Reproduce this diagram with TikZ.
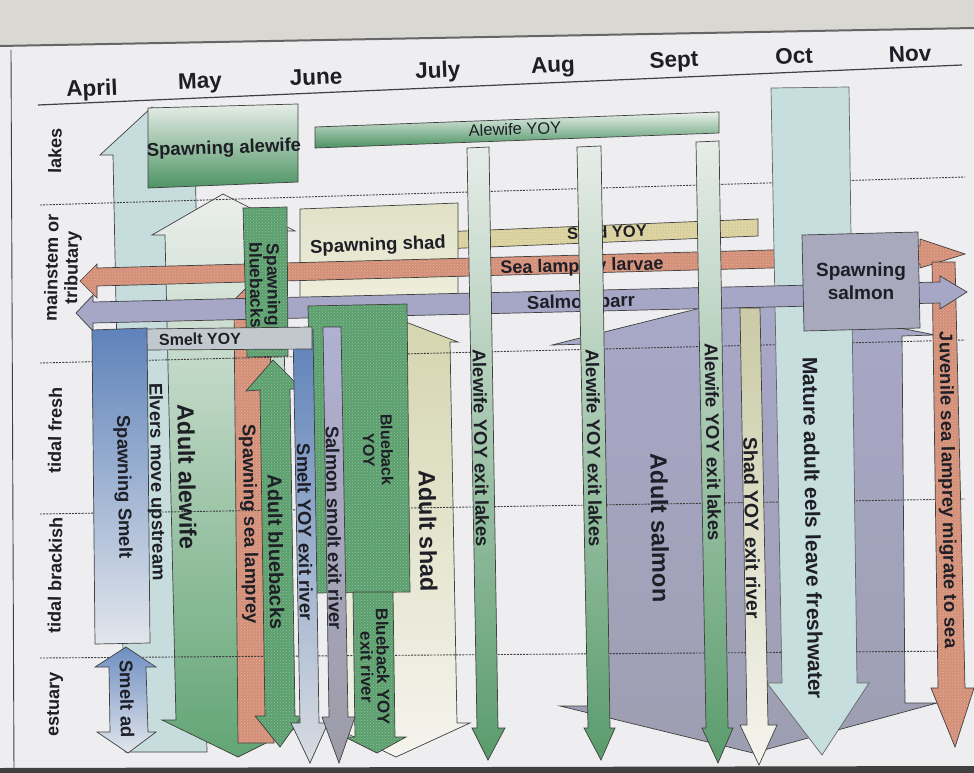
\documentclass[tikz,border=0pt]{standalone}
\usepackage{fontspec}
\setmainfont{Liberation Sans}
\usetikzlibrary{patterns}
\definecolor{paper}{HTML}{EEEDF0}
\definecolor{band}{HTML}{DAD8D3}
\definecolor{edgec}{HTML}{404040}
\definecolor{txt}{HTML}{1E1E26}
\definecolor{elvers}{HTML}{C7DDDD}
\definecolor{alewL}{HTML}{ECEFEC}
\definecolor{alewM}{HTML}{B8D8BF}
\definecolor{alewG}{HTML}{62A574}
\definecolor{shadL}{HTML}{D5D5AF}
\definecolor{shadW}{HTML}{F4F4EE}
\definecolor{salmonT}{HTML}{A8A8C8}
\definecolor{salmonB}{HTML}{9E9EB2}
\definecolor{lamp}{HTML}{D38F78}
\definecolor{lampdot}{HTML}{E6B09C}
\definecolor{shadyoy}{HTML}{D8CF9C}
\definecolor{shadyoydot}{HTML}{ECE4BC}
\definecolor{spshadT}{HTML}{E0E1C6}
\definecolor{spshadB}{HTML}{EEEEDC}
\definecolor{spalewT}{HTML}{E6EDE8}
\definecolor{spalewB}{HTML}{4E9464}
\definecolor{bbG}{HTML}{5C9E6E}
\definecolor{bbdot}{HTML}{8EC49B}
\definecolor{smeltB}{HTML}{5E82BA}
\definecolor{smeltL}{HTML}{E2E6EC}
\definecolor{smoltT}{HTML}{B0B0D2}
\definecolor{smoltB}{HTML}{9C9CA8}
\definecolor{parr}{HTML}{A6A6C6}
\definecolor{spsalmon}{HTML}{A9A9BD}
\definecolor{eels}{HTML}{C7DEDF}
\definecolor{yoyT}{HTML}{E9F0EA}
\definecolor{yoyB}{HTML}{4A9262}
\definecolor{exitL}{HTML}{E6ECE8}
\definecolor{exitM}{HTML}{C4DBC9}
\definecolor{exitG}{HTML}{5A9C6C}
\definecolor{sygray}{HTML}{C2C9CE}
\definecolor{sywhite}{HTML}{F3F5F6}
\definecolor{dotline}{HTML}{3C3C3C}
\begin{document}
\begin{tikzpicture}[x=1pt,y=-1pt,
  edge/.style={draw=edgec, line width=0.7pt, line join=miter},
  tx/.style={inner sep=0pt, text=txt, align=center, font=\bfseries\fontsize{18.5}{21}\selectfont},
  txv/.style={tx, rotate=-89},
  big/.style={font=\bfseries\fontsize{23.5}{26}\selectfont},
  month/.style={tx, font=\bfseries\fontsize{22.5}{24}\selectfont, rotate=2.3},
  rowlab/.style={tx, font=\bfseries\fontsize{18}{20}\selectfont, rotate=89},
  lampfill/.style={edge, preaction={fill=lamp}, pattern=crosshatch dots, pattern color=lampdot},
  bbfill/.style={edge, preaction={fill=bbG}, pattern=crosshatch dots, pattern color=bbdot},
  shadyoyfill/.style={edge, preaction={fill=shadyoy}, pattern=crosshatch dots, pattern color=shadyoydot},
  rowline/.style={draw=dotline, line width=0.9pt, dash pattern=on 2pt off 1.2pt},
  exitarrow/.style={edge, top color=exitL, middle color=exitM, bottom color=exitG}
]
\useasboundingbox (0,0) rectangle (974,773);
% paper and frame
\fill[paper] (0,0) rectangle (974,773);
\fill[band] (0,0) -- (974,0) -- (974,28) -- (0,46) -- cycle;
\draw[edgec!80, line width=2pt] (0,46) -- (974,28);
\draw[edgec, line width=0.9pt] (11,50) -- (14,773);
\fill[black!75] (0,768) -- (974,766) -- (974,773) -- (0,773) -- cycle;
% header
\draw[edgec, line width=1.2pt] (38,105) -- (962,65);
\node[month] (apr) at (92,90) {April};
\node[month] (may) at (200,83) {May};
\node[month] (jun) at (316,77) {June};
\node[month] (jul) at (438,72) {July};
\node[month] (aug) at (553,67) {Aug};
\node[month] (sep) at (674,62) {Sept};
\node[month] (oct) at (794,56) {Oct};
\node[month] (nov) at (910,54) {Nov};
% row labels
\node[rowlab] (rlakes) at (55,151) {lakes};
\node[rowlab] (rmain) at (63,268) {mainstem or\\tributary};
\node[rowlab] (rfresh) at (55,430) {tidal fresh};
\node[rowlab] (rbrack) at (55,575) {tidal brackish};
\node[rowlab] (rest) at (55,704) {estuary};

% ---- large background shapes ----
% Elvers move upstream
\path[edge, fill=elvers] (152,107) -- (208,153) -- (195,153) -- (207,752) -- (125,752) -- (113,155) -- (100,155) -- cycle;
% Adult alewife
\path[edge, top color=alewL, middle color=alewM, bottom color=alewG] (223,194) -- (295,231) -- (281,231) -- (294,720) -- (312,720) -- (238,757) -- (162,720) -- (176,720) -- (165,235) -- (152,235) -- cycle;
% Adult shad
\path[edge, top color=shadL, bottom color=shadW] (390,316) -- (458,342) -- (450,342) -- (457,723) -- (470,723) -- (396,757) -- (325,723) -- (337,723) -- (330,342) -- (322,343) -- cycle;
% Adult salmon
\path[edge, top color=salmonT, bottom color=salmonB] (745,297) -- (935,335) -- (902,336) -- (905,703) -- (937,703) -- (753,753) -- (560,706) -- (595,706) -- (590,344) -- (552,345) -- cycle;
% Spawning sea lamprey
\path[lampfill] (252,282) -- (278,308) -- (270,308) -- (274,743) -- (238,743) -- (234,308) -- (226,308) -- cycle;

% row separators
\draw[rowline] (40,205) -- (965,177);
\draw[rowline] (40,363) -- (965,340);
\draw[rowline] (40,514) -- (965,499);
\draw[rowline] (40,658) -- (965,651);

% Shad YOY bar
\path[shadyoyfill] (440,232) -- (758,219) -- (758,236) -- (440,249) -- cycle;
\node[tx, font=\bfseries\fontsize{16.5}{18}\selectfont, rotate=2] (tshadyoy) at (607,232) {Shad YOY};
% Spawning shad
\path[edge, top color=spshadT, bottom color=spshadB] (300,209) -- (458,203) -- (458,296) -- (300,298) -- cycle;
\node[tx, rotate=2] (tspshad) at (378,246) {Spawning shad};
% Spawning alewife
\path[edge, top color=spalewT, bottom color=spalewB] (148,108) -- (298,104) -- (298,182) -- (148,188) -- cycle;
\node[tx, rotate=2] (tspalew) at (224,149) {Spawning alewife};
% Alewife YOY bar
\path[edge, top color=yoyT, bottom color=yoyB] (315,127) -- (719,112) -- (719,133) -- (315,148) -- cycle;
\node[tx, font=\fontsize{16.5}{18}\selectfont, rotate=2] (talyoy) at (515,129) {Alewife YOY};
% Sea lamprey larvae
\path[lampfill] (80,281) -- (97,264) -- (97,268) -- (920,246) -- (920,239) -- (965,254) -- (920,268) -- (920,264) -- (97,286) -- (97,298) -- cycle;
\node[tx, font=\bfseries\fontsize{18}{20}\selectfont, rotate=1.5] (tlarv) at (582,267) {Sea lamprey larvae};
% Juvenile sea lamprey
\path[lampfill] (932,262) -- (955,262) -- (965,688) -- (974,688) -- (955,747) -- (931,688) -- (938,688) -- cycle;
% Mature adult eels
\path[edge, draw=edgec!80, fill=eels] (771,88) -- (849,87) -- (857,683) -- (869,683) -- (822,755) -- (767,683) -- (782,683) -- cycle;
% Salmon parr
\path[edge, fill=parr] (76,313) -- (93,295) -- (93,302) -- (940,282) -- (940,276) -- (967,292) -- (940,309) -- (940,303) -- (93,323) -- (93,331) -- cycle;
\node[tx, rotate=1.5] (tparr) at (581,303) {Salmon parr};
% Spawning salmon
\path[edge, fill=spsalmon] (802,235) -- (918,232) -- (920,328) -- (804,331) -- cycle;

% Spawning bluebacks
\path[bbfill] (243,208) -- (287,207) -- (288,356) -- (247,357) -- cycle;
% Adult bluebacks
\path[bbfill] (273,360) -- (302,389) -- (290,389) -- (295,716) -- (302,716) -- (280,747) -- (255,716) -- (265,716) -- (260,390) -- (246,391) -- cycle;
% Bluebacks YOY
\path[bbfill] (308,306) -- (407,304) -- (410,592) -- (314,593) -- cycle;
% Bluebacks YOY exit river
\path[bbfill] (353,592) -- (393,592) -- (395,737) -- (406,737) -- (377,753) -- (345,737) -- (355,737) -- cycle;
% Smelt YOY exit river
\path[edge, top color=smeltB, bottom color=smeltL!90!gray] (293,330) -- (313,330) -- (319,723) -- (328,723) -- (310,763) -- (291,723) -- (300,723) -- cycle;
% Salmon smolt exit river
\path[edge, top color=smoltT, bottom color=smoltB] (323,327) -- (341,327) -- (348,717) -- (355,717) -- (339,763) -- (322,717) -- (329,717) -- cycle;
% Smelt YOY bar
\path[edge, top color=sygray, middle color=sywhite, bottom color=sygray] (143,329) -- (312,327) -- (312,349) -- (143,350) -- cycle;
% Spawning Smelt
\path[edge, top color=smeltB, bottom color=smeltL] (92,330) -- (147,328) -- (150,643) -- (95,644) -- cycle;
% Smelt ad
\path[edge, top color=smeltB!90!white, bottom color=smeltL] (126,647) -- (156,667) -- (146,667) -- (148,732) -- (156,732) -- (128,753) -- (97,732) -- (110,732) -- (109,667) -- (95,667) -- cycle;
% Alewife YOY exit lakes (3)
\path[exitarrow] (467,148) -- (489,147) -- (498,728) -- (505,728) -- (488,760) -- (472,728) -- (477,728) -- cycle;
\path[exitarrow] (577,147) -- (601,146) -- (610,728) -- (615,728) -- (601,760) -- (584,728) -- (588,728) -- cycle;
\path[exitarrow] (696,142) -- (719,141) -- (728,728) -- (733,728) -- (718,763) -- (702,728) -- (706,728) -- cycle;
% Shad YOY exit river
\path[edge, top color=shadL!95!black, bottom color=shadW] (740,308) -- (760,308) -- (768,725) -- (777,725) -- (759,765) -- (740,725) -- (747,725) -- cycle;

% ---- labels ----
\node[tx, font=\bfseries\fontsize{19}{23}\selectfont] (tspsal) at (861,281) {Spawning\\salmon};
\node[tx, font=\bfseries\fontsize{16}{18}\selectfont, rotate=1] (tsmyoy) at (200,339) {Smelt YOY};
\node[txv, font=\bfseries\fontsize{17.5}{15}\selectfont] (tspbb) at (265,285) {Spawning\\bluebacks};
\node[txv] (tspsm) at (123,487) {Spawning Smelt};
\node[txv] (telv) at (156,482) {Elvers move upstream};
\node[txv, big] (tadalew) at (187,477) {Adult alewife};
\node[txv] (tsplamp) at (249,524) {Spawning sea lamprey};
\node[txv, font=\bfseries\fontsize{20}{22}\selectfont] (tadbb) at (276,552) {Adult bluebacks};
\node[txv] (tsmexit) at (305,532) {Smelt YOY exit river};
\node[txv] (tsmolt) at (334,528) {Salmon smolt exit river};
\node[txv, font=\bfseries\fontsize{16}{18}\selectfont] (tbbyoy) at (378,450) {Blueback\\YOY};
\node[txv, font=\bfseries\fontsize{17}{16}\selectfont] (tbbexit) at (375,667) {Blueback YOY\\exit river};
\node[txv, big] (tadshad) at (428,531) {Adult shad};
\node[txv] (tex1) at (481,448) {Alewife YOY exit lakes};
\node[txv] (tex2) at (594,448) {Alewife YOY exit lakes};
\node[txv] (tex3) at (713,442) {Alewife YOY exit lakes};
\node[txv, big] (tadsal) at (660,528) {Adult salmon};
\node[txv, font=\bfseries\fontsize{19.5}{22}\selectfont] (tshexit) at (752,528) {Shad YOY exit river};
\node[txv, font=\bfseries\fontsize{21}{24}\selectfont] (teels) at (813,528) {Mature adult eels leave freshwater};
\node[txv, font=\bfseries\fontsize{18.5}{21}\selectfont] (tjuv) at (947,490) {Juvenile sea lamprey migrate to sea};
\node[txv] (tsmad) at (127,699) {Smelt ad};
\end{tikzpicture}
\end{document}
